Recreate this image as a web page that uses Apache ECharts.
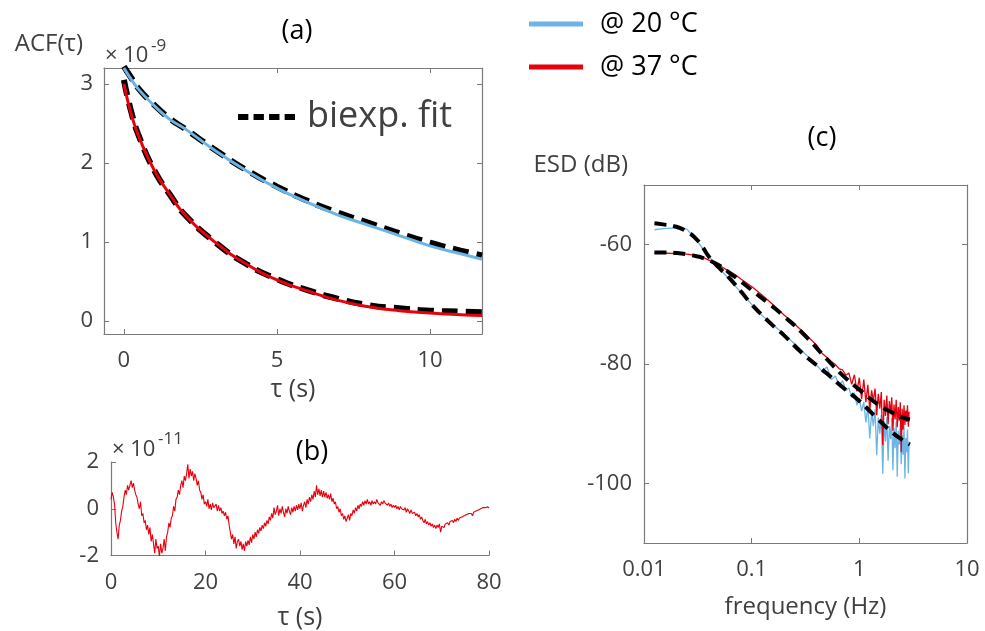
<!DOCTYPE html>
<html>
<head>
<meta charset="utf-8">
<script src="https://cdn.jsdelivr.net/npm/echarts@6/dist/echarts.min.js"></script>
<style>
  html, body { margin: 0; padding: 0; background: #fff; }
  #chartBox { width: 985px; height: 631px; }
</style>
</head>
<body>
<div id="chartBox"></div>
<script>
// (a) ACF, units of 1e-9
const tauA = [0, 0.25, 0.5, 1, 1.5, 2, 3, 4, 5, 6, 7, 8, 9, 10, 11, 11.7];
const acf20 = [3.2, 3.05, 2.92, 2.72, 2.55, 2.43, 2.15, 1.9, 1.68, 1.5, 1.34, 1.21, 1.08, 0.95, 0.85, 0.78];
const acf20Fit = [3.22, 3.07, 2.93, 2.73, 2.56, 2.43, 2.16, 1.91, 1.7, 1.52, 1.37, 1.24, 1.11, 0.99, 0.89, 0.83];
const acf37 = [3.0, 2.6, 2.32, 1.9, 1.6, 1.34, 0.99, 0.72, 0.52, 0.38, 0.26, 0.18, 0.13, 0.1, 0.08, 0.07];
const acf37Fit = [3.05, 2.63, 2.33, 1.9, 1.6, 1.34, 0.99, 0.72, 0.53, 0.39, 0.28, 0.2, 0.16, 0.13, 0.12, 0.11];
const ticksAx = [0, 5, 10];
const ticksAy = [0, 1, 2, 3];

// (b) residual, units of 1e-11, tau step 0.25 s from 0 to 80
const residB = [
  0.4, 0.7, 0.5, 0.2, -0.6, -1.0, -1.3, -0.7, -0.5, -0.1, 0.1, 0.5,
  0.8, 0.6, 1.0, 0.8, 1.0, 1.2, 0.9, 1.1, 0.8, 0.6, 0.5, 0.2,
  0.0, 0.3, -0.3, -0.2, -0.6, -0.5, -0.9, -0.7, -1.1, -0.8, -1.4, -1.1,
  -1.5, -1.9, -1.3, -1.7, -1.6, -2.05, -1.5, -1.9, -1.7, -1.3, -1.8, -1.2,
  -1.0, -0.6, -0.8, -0.4, -0.3, 0.1, -0.1, 0.4, 0.5, 0.8, 0.6, 1.0,
  1.2, 0.9, 1.4, 1.2, 1.5, 1.9, 1.3, 1.7, 1.4, 1.6, 1.2, 1.5,
  1.3, 1.0, 1.2, 0.8, 0.7, 0.4, 0.6, 0.2, 0.3, 0.1, 0.4, 0.0,
  0.2, -0.05, 0.25, 0.05, 0.1, 0.2, -0.1, 0.15, -0.1, 0.05, -0.2, -0.1,
  -0.3, -0.15, -0.45, -0.3, -0.7, -1.0, -1.3, -1.1, -1.5, -1.2, -1.7, -1.4,
  -1.3, -1.6, -1.4, -1.75, -1.5, -1.8, -1.4, -1.6, -1.35, -1.55, -1.2, -1.45,
  -1.1, -1.3, -1.0, -1.2, -0.9, -1.05, -0.8, -0.95, -0.7, -0.85, -0.6, -0.75,
  -0.5, -0.65, -0.35, -0.5, -0.2, -0.4, 0.05, -0.25, -0.1, 0.15, -0.3, 0.0,
  -0.2, 0.1, -0.15, -0.35, 0.0, -0.2, 0.1, -0.1, -0.25, 0.05, -0.15, 0.1,
  -0.1, 0.15, -0.05, 0.2, 0.0, 0.25, -0.1, 0.15, 0.3, 0.05, 0.4, 0.2,
  0.5, 0.3, 0.6, 0.4, 0.75, 0.5, 1.0, 0.6, 0.85, 0.55, 0.8, 0.5,
  0.75, 0.5, 0.7, 0.45, 0.6, 0.4, 0.65, 0.3, 0.45, 0.2, 0.3, 0.0,
  0.1, -0.15, 0.0, -0.3, -0.2, -0.45, -0.3, -0.55, -0.4, -0.25, -0.5, -0.2,
  -0.3, -0.05, -0.2, 0.05, -0.1, 0.15, 0.0, 0.2, 0.1, 0.3, 0.15, 0.35,
  0.2, 0.4, 0.2, 0.3, 0.15, 0.35, 0.2, 0.3, 0.2, 0.4, 0.25, 0.3,
  0.15, 0.3, 0.2, 0.35, 0.25, 0.3, 0.15, 0.25, 0.1, 0.2, 0.05, 0.15,
  0.05, 0.15, 0.0, 0.1, -0.05, 0.1, 0.0, 0.05, -0.05, 0.05, -0.15, 0.0,
  -0.1, -0.2, -0.05, -0.2, -0.25, -0.15, -0.3, -0.2, -0.35, -0.25, -0.45, -0.35,
  -0.5, -0.6, -0.45, -0.65, -0.55, -0.7, -0.6, -0.75, -0.65, -0.8, -0.7, -0.85,
  -0.7, -0.8, -0.65, -1.0, -0.75, -0.7, -0.8, -0.65, -0.7, -0.6, -0.7, -0.55,
  -0.6, -0.5, -0.6, -0.45, -0.55, -0.4, -0.5, -0.4, -0.45, -0.35, -0.4, -0.3,
  -0.35, -0.25, -0.3, -0.2, -0.25, -0.2, -0.3, -0.15, -0.2, -0.1, -0.15, -0.05,
  -0.1, 0.0, -0.05, 0.05, 0.0, 0.05, 0.0, 0.08, 0.03
];

// (c) ESD in dB
const freqC = [
  0.0125, 0.015, 0.02, 0.025, 0.03, 0.035, 0.04, 0.05, 0.06, 0.07,
  0.08, 0.1, 0.12, 0.15, 0.2, 0.25, 0.3, 0.35, 0.4,
  0.45, 0.5, 0.55, 0.6, 0.65, 0.7, 0.75, 0.8, 0.85, 0.9,
  0.95, 1.0, 1.05, 1.1, 1.15, 1.2, 1.25, 1.3, 1.35, 1.4,
  1.45, 1.5, 1.55, 1.6, 1.65, 1.7, 1.75, 1.8, 1.85, 1.9,
  1.95, 2.0, 2.05, 2.1, 2.15, 2.2, 2.25, 2.3, 2.35, 2.4,
  2.45, 2.5, 2.55, 2.6, 2.65, 2.7, 2.75, 2.8, 2.85, 2.9
];
const esd20 = [
  -57.5, -57.3, -57.2, -57.4, -59.0, -60.6, -62.0, -64.0, -65.5, -66.9,
  -68.0, -70.0, -71.6, -73.1, -75.0, -76.6, -78.0, -79.1, -80.2,
  -81.2, -80.5, -82.6, -82.0, -83.6, -82.8, -84.5, -84.0, -85.6, -84.8,
  -86.9, -85.7, -87.9, -86.4, -89.8, -87.1, -92.5, -88.0, -90.4, -87.6,
  -95.3, -89.0, -91.7, -88.5, -98.4, -89.6, -93.0, -88.9, -96.2, -90.4,
  -92.6, -89.1, -97.8, -90.7, -94.1, -89.6, -98.9, -91.2, -93.5, -90.0,
  -96.8, -91.9, -95.2, -90.3, -99.2, -92.4, -94.8, -91.0, -98.3, -93.0
];
const esd37 = [
  -61.4, -61.4, -61.5, -61.6, -61.8, -62.1, -62.6, -63.5, -64.3, -65.0,
  -65.8, -67.0, -68.2, -69.7, -71.8, -73.3, -74.6, -75.8, -76.8,
  -78.2, -78.9, -79.6, -80.1, -80.8, -81.0, -81.9, -81.5, -83.4, -81.8,
  -84.6, -82.3, -85.9, -82.6, -86.4, -83.5, -87.8, -84.4, -86.2, -84.1,
  -88.6, -85.0, -87.5, -84.7, -93.6, -86.0, -88.7, -85.3, -90.1, -86.2,
  -88.4, -85.6, -91.2, -86.8, -89.3, -86.0, -90.6, -87.2, -89.5, -86.4,
  -94.8, -87.5, -91.0, -86.9, -90.2, -87.8, -89.7, -86.9, -90.5, -88.0
];
const freqFit = [0.0125, 0.015, 0.02, 0.025, 0.03, 0.035, 0.04, 0.05, 0.06, 0.08, 0.1, 0.15, 0.2, 0.3, 0.5, 0.7, 1, 1.5, 2, 2.5, 2.95];
const esd20Fit = [-56.4, -56.6, -57.0, -57.8, -58.9, -60.4, -62.0, -63.9, -65.3, -67.9, -70.0, -73.2, -75.2, -78.3, -81.6, -83.9, -86.2, -89.3, -91.4, -92.7, -93.5];
const esd37Fit = [-61.3, -61.3, -61.4, -61.6, -61.9, -62.2, -62.6, -63.5, -64.5, -66.2, -67.6, -70.1, -72.0, -74.9, -79.2, -81.9, -84.3, -86.8, -88.1, -88.9, -89.3];
const ticksCy = [-100, -80, -60];

const pairs = (xs, ys) => xs.map((x, i) => [x, ys[i]]);
const tauB = residB.map((_, i) => i * 0.25);

const BLUE = '#6cb4e6';
const RED = '#e8000d';
const AXIS = '#7a7a7a';
const LABEL = '#404040';
const FONT = '"Open Sans", "Noto Sans", sans-serif';
const TICK_SIZE = 22;

const chart = echarts.init(document.getElementById('chartBox'));

const axLine = { show: true, onZero: false, lineStyle: { color: AXIS, width: 1.2 } };
const tickIn = (vals) => ({ show: true, inside: true, length: 5, lineStyle: { color: AXIS }, customValues: vals });
const tickPlain = { show: true, inside: true, length: 5, lineStyle: { color: AXIS } };
const lbl = (vals, margin) => ({ color: LABEL, fontSize: TICK_SIZE, fontFamily: FONT, margin: margin, customValues: vals });
const nameStyle = (size) => ({ color: LABEL, fontSize: size, verticalAlign: 'middle', fontFamily: FONT });

const fitLine = (w, dash) => ({ color: '#000', width: w, type: dash });

// titles and the exponent marks
const txt = (s, x, y, size, color, align) => ({
  type: 'text', x: x, y: y,
  style: { text: s, fontSize: size, fill: color, fontFamily: FONT, align: align || 'left', verticalAlign: 'middle' }
});

var option = {
  animation: false,
  textStyle: { fontFamily: FONT },
  grid: [
    { left: 104, top: 68, width: 378, height: 266 },
    { left: 111, top: 462, width: 378, height: 94 },
    { left: 644, top: 185, width: 323, height: 358 }
  ],
  legend: [
    {
      data: [{ name: '@ 20 °C', icon: 'rect' }, { name: '@ 37 °C', icon: 'rect' }],
      orient: 'vertical',
      left: 524, top: 4,
      itemWidth: 54, itemHeight: 5, itemGap: 13,
      selectedMode: false,
      textStyle: { color: '#000', fontSize: 27, lineHeight: 30, padding: [0, 0, 0, 12], fontFamily: FONT }
    },
    {
      data: [{ name: 'biexp. fit', icon: 'path://M0 0H10V6H0Z M15 0H25V6H15Z M30 0H40V6H30Z M45 0H55V6H45Z' }],
      left: 233, top: 92,
      itemWidth: 57, itemHeight: 7,
      selectedMode: false,
      textStyle: { color: LABEL, fontSize: 36, lineHeight: 40, padding: [0, 0, 0, 7], fontFamily: FONT }
    }
  ],
  xAxis: [
    {
      gridIndex: 0, type: 'value', min: -0.65, max: 11.7,
      axisLine: axLine, axisTick: tickIn(ticksAx), axisLabel: lbl(ticksAx, 16), splitLine: { show: false },
      name: 'τ (s)', nameLocation: 'middle', nameGap: 56, nameTextStyle: nameStyle(25)
    },
    {
      gridIndex: 0, type: 'value', position: 'top', min: -0.65, max: 11.7,
      axisLine: axLine, axisTick: tickIn(ticksAx), axisLabel: { show: false }, splitLine: { show: false }
    },
    {
      gridIndex: 1, type: 'value', min: 0, max: 80, interval: 20,
      axisLine: axLine, axisTick: tickPlain,
      axisLabel: { color: LABEL, fontSize: TICK_SIZE, margin: 16, fontFamily: FONT }, splitLine: { show: false },
      name: 'τ (s)', nameLocation: 'middle', nameGap: 62, nameTextStyle: nameStyle(25)
    },
    {
      gridIndex: 2, type: 'log', logBase: 10, min: 0.01, max: 10,
      axisLine: axLine, axisTick: tickPlain,
      axisLabel: { color: LABEL, fontSize: TICK_SIZE, margin: 16, fontFamily: FONT }, splitLine: { show: false },
      minorTick: { show: false },
      name: 'frequency (Hz)', nameLocation: 'middle', nameGap: 64, nameTextStyle: nameStyle(24)
    },
    {
      gridIndex: 2, type: 'log', logBase: 10, min: 0.01, max: 10, position: 'top',
      axisLine: axLine, axisTick: tickPlain, axisLabel: { show: false }, splitLine: { show: false }
    }
  ],
  yAxis: [
    {
      gridIndex: 0, type: 'value', min: -0.165, max: 3.2,
      axisLine: axLine, axisTick: tickIn(ticksAy), axisLabel: lbl(ticksAy, 11), splitLine: { show: false },
      name: 'ACF(τ)', nameLocation: 'end', nameGap: 24,
      nameTextStyle: { color: LABEL, fontSize: 24, align: 'right', verticalAlign: 'middle', padding: [0, 21, 0, 0], fontFamily: FONT }
    },
    {
      gridIndex: 0, type: 'value', position: 'right', min: -0.165, max: 3.2,
      axisLine: axLine, axisTick: tickIn(ticksAy), axisLabel: { show: false }, splitLine: { show: false }
    },
    {
      gridIndex: 1, type: 'value', min: -2, max: 2, interval: 2,
      axisLine: axLine, axisTick: tickPlain,
      axisLabel: { color: LABEL, fontSize: TICK_SIZE, margin: 12, fontFamily: FONT }, splitLine: { show: false }
    },
    {
      gridIndex: 2, type: 'value', min: -110, max: -50,
      axisLine: axLine, axisTick: tickIn(ticksCy), axisLabel: lbl(ticksCy, 12), splitLine: { show: false },
      name: 'ESD (dB)', nameLocation: 'end', nameGap: 20,
      nameTextStyle: { color: LABEL, fontSize: 24, align: 'right', verticalAlign: 'middle', padding: [0, 16, 0, 0], fontFamily: FONT }
    },
    {
      gridIndex: 2, type: 'value', position: 'right', min: -110, max: -50,
      axisLine: axLine, axisTick: tickIn(ticksCy), axisLabel: { show: false }, splitLine: { show: false }
    }
  ],
  graphic: [
    txt('(a)', 297, 31, 27, '#000', 'center'),
    txt('× 10', 105, 56, 22, LABEL),
    txt('-9', 151, 46, 17, LABEL),
    txt('(b)', 312, 452, 27, '#000', 'center'),
    txt('× 10', 112, 450, 22, LABEL),
    txt('-11', 158, 439, 17, LABEL),
    txt('(c)', 822, 138, 27, '#000', 'center')
  ],
  series: [
    // (a) fits under data
    { name: 'biexp. fit', type: 'line', xAxisIndex: 0, yAxisIndex: 0, data: pairs(tauA, acf20Fit), smooth: true, showSymbol: false, itemStyle: { color: '#000' }, lineStyle: fitLine(6, [16, 8]) },
    { name: 'biexp. fit', type: 'line', xAxisIndex: 0, yAxisIndex: 0, data: pairs(tauA, acf37Fit), smooth: true, showSymbol: false, itemStyle: { color: '#000' }, lineStyle: fitLine(6, [16, 8]) },
    { name: '@ 20 °C', type: 'line', xAxisIndex: 0, yAxisIndex: 0, data: pairs(tauA, acf20), smooth: true, showSymbol: false, itemStyle: { color: BLUE }, lineStyle: { color: BLUE, width: 3 } },
    { name: '@ 37 °C', type: 'line', xAxisIndex: 0, yAxisIndex: 0, data: pairs(tauA, acf37), smooth: true, showSymbol: false, itemStyle: { color: RED }, lineStyle: { color: RED, width: 3 } },
    // (b)
    { name: 'residual', type: 'line', xAxisIndex: 2, yAxisIndex: 2, data: pairs(tauB, residB), showSymbol: false, lineStyle: { color: RED, width: 1.1 } },
    // (c) data, then fits on top
    { name: '@ 20 °C', type: 'line', xAxisIndex: 3, yAxisIndex: 3, data: pairs(freqC, esd20), showSymbol: false, itemStyle: { color: BLUE }, lineStyle: { color: BLUE, width: 1.3 } },
    { name: '@ 37 °C', type: 'line', xAxisIndex: 3, yAxisIndex: 3, data: pairs(freqC, esd37), showSymbol: false, itemStyle: { color: RED }, lineStyle: { color: RED, width: 1.3 } },
    { name: 'biexp. fit', type: 'line', xAxisIndex: 3, yAxisIndex: 3, data: pairs(freqFit, esd20Fit), smooth: true, showSymbol: false, itemStyle: { color: '#000' }, lineStyle: fitLine(4, [12, 7]) },
    { name: 'biexp. fit', type: 'line', xAxisIndex: 3, yAxisIndex: 3, data: pairs(freqFit, esd37Fit), smooth: true, showSymbol: false, itemStyle: { color: '#000' }, lineStyle: fitLine(4, [12, 7]) }
  ]
};

chart.setOption(option);
</script>
</body>
</html>
